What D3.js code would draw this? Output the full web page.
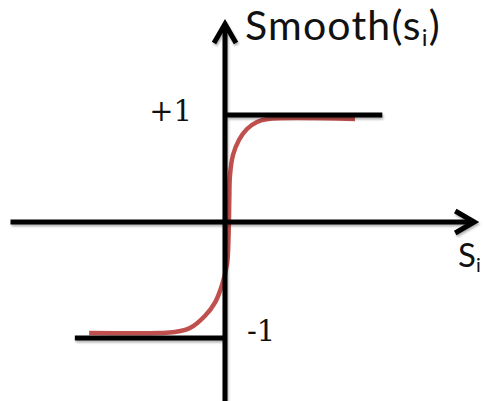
<!DOCTYPE html>
<html>
<head>
<meta charset="utf-8">
<script src="https://cdn.jsdelivr.net/npm/d3@7"></script>
<style>
  html, body { margin: 0; padding: 0; background: #fff; }
  svg { display: block; }
</style>
</head>
<body>
<div id="chart"></div>
<script>
// smooth(s) curve (s in axis units, value in [-1, 1])
const curveS =     [-2.09, -1.0, -0.77, -0.54, -0.31, -0.15, -0.046, 0.031, 0.055, 0.066, 0.077, 0.123, 0.215, 0.338, 0.492, 0.662, 2.0];
const curveValue = [-0.957, -0.957, -0.948, -0.914, -0.81, -0.69, -0.543, -0.362, -0.112, 0.206, 0.439, 0.626, 0.766, 0.869, 0.935, 0.963, 0.963];

// saturation levels and their labels
const levels = [1, -1];
const levelLabels = ["+1", "-1"];
const levelSpan = [[0, 2.42], [-2.31, 0]];

const xTitle = ["S", "i"];
const yTitle = ["Smooth(s", "i", ")"];

const width = 483, height = 401;

const svg = d3.select("#chart")
  .append("svg")
  .attr("width", width)
  .attr("height", height);

// soft office-style shadow under the black strokes
const defs = svg.append("defs");
const shadow = defs.append("filter")
  .attr("id", "shadow")
  .attr("x", "-10%").attr("y", "-10%")
  .attr("width", "130%").attr("height", "130%");
shadow.append("feDropShadow")
  .attr("dx", 1).attr("dy", 2)
  .attr("stdDeviation", 1.2)
  .attr("flood-color", "#000")
  .attr("flood-opacity", 0.3);

const x = d3.scaleLinear()
  .domain([-3.3, 3.85])
  .range([10.5, 475.25]);

const y = d3.scaleLinear()
  .domain([-1, 0, 1])
  .range([338, 222, 115]);

const yAxisTop = 1.86, yAxisBottom = -1.6;

// the red smooth curve (drawn first so the axis sits on top)
const pts = curveS.map((s, i) => [s, curveValue[i]]);
svg.append("path")
  .datum(pts)
  .attr("fill", "none")
  .attr("stroke", "#c0504d")
  .attr("stroke-width", 4.5)
  .attr("stroke-linecap", "butt")
  .attr("d", d3.line()
    .x(d => x(d[0]))
    .y(d => y(d[1]))
    .curve(d3.curveCatmullRom.alpha(0.5)));

const ink = svg.append("g")
  .attr("stroke", "#000")
  .attr("stroke-width", 5)
  .attr("fill", "none")
  .attr("filter", "url(#shadow)");

// +1 / -1 level lines
ink.selectAll(".level")
  .data(levels)
  .join("line")
  .attr("class", "level")
  .attr("x1", (d, i) => x(levelSpan[i][0]))
  .attr("x2", (d, i) => x(levelSpan[i][1]))
  .attr("y1", d => y(d))
  .attr("y2", d => y(d));

// horizontal axis with open arrow head
ink.append("line")
  .attr("x1", x.range()[0]).attr("x2", x.range()[1] - 2)
  .attr("y1", y(0)).attr("y2", y(0));
ink.append("path")
  .attr("stroke-linejoin", "miter")
  .attr("d", d3.line()([[x.range()[1] - 20, y(0) - 11], [x.range()[1] - 1, y(0)], [x.range()[1] - 20, y(0) + 11]]));

// vertical axis with open arrow head
ink.append("line")
  .attr("x1", x(0)).attr("x2", x(0))
  .attr("y1", y(yAxisBottom)).attr("y2", y(yAxisTop) + 2);
ink.append("path")
  .attr("stroke-linejoin", "miter")
  .attr("d", d3.line()([[x(0) - 11, y(yAxisTop) + 20], [x(0), y(yAxisTop) + 1], [x(0) + 11, y(yAxisTop) + 20]]));

// level labels
svg.selectAll(".levelLabel")
  .data(levels)
  .join("text")
  .attr("class", "levelLabel")
  .attr("x", (d, i) => i === 0 ? x(0) - 33 : x(0) + 22)
  .attr("y", (d, i) => i === 0 ? y(d) + 6 : y(d) + 3)
  .attr("text-anchor", (d, i) => i === 0 ? "end" : "start")
  .attr("font-family", "'DejaVu Serif', 'Liberation Serif', serif")
  .attr("font-size", 29)
  .attr("fill", "#111")
  .text((d, i) => levelLabels[i]);

// axis titles
const yt = svg.append("text")
  .attr("x", x(0) + 20)
  .attr("y", 40)
  .attr("font-family", "Lato, 'Open Sans', sans-serif")
  .attr("font-size", 41)
  .attr("letter-spacing", 1.2)
  .attr("fill", "#111");
yt.append("tspan").text(yTitle[0]);
yt.append("tspan").attr("font-size", 24).attr("dy", 6).text(yTitle[1]);
yt.append("tspan").attr("dy", -6).text(yTitle[2]);

const xt = svg.append("text")
  .attr("x", 458)
  .attr("y", 267)
  .attr("font-family", "Lato, 'Open Sans', sans-serif")
  .attr("font-size", 33)
  .attr("fill", "#111");
xt.append("tspan").text(xTitle[0]);
xt.append("tspan").attr("font-size", 20).attr("dy", 5).text(xTitle[1]);
</script>
</body>
</html>
